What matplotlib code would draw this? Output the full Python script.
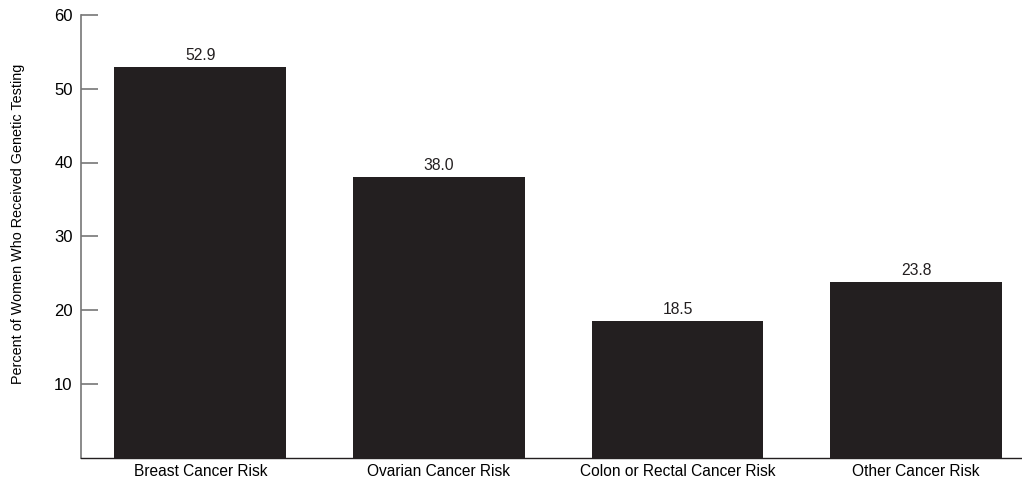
import matplotlib.pyplot as plt
import numpy as np

# data
categories = ["Breast Cancer Risk", "Ovarian Cancer Risk",
              "Colon or Rectal Cancer Risk", "Other Cancer Risk"]
values = [52.9, 38.0, 18.5, 23.8]
y_ticks = [10, 20, 30, 40, 50, 60]

plt.rcParams["font.family"] = ["Liberation Sans", "DejaVu Sans"]

fig = plt.figure(figsize=(10.22, 4.78), dpi=100)
ax = fig.add_axes([81 / 1022, 1 - 457.5 / 478, 1 - 81 / 1022, (457.5 - 15) / 478])

x = np.arange(len(categories))
bars = ax.bar(x, values, width=0.72, color="#231f20", zorder=2)

for xi, v in zip(x, values):
    ax.annotate(f"{v:.1f}", xy=(xi, v), xytext=(0, 3), textcoords="offset points",
                ha="center", va="bottom", fontsize=11.3, color="#231f20")

ax.set_xlim(-0.5, len(categories) - 1 + 0.444)
ax.set_ylim(0, 60)
ax.set_yticks(y_ticks)
ax.set_yticklabels([str(t) for t in y_ticks], fontsize=12)
ax.set_xticks(x)
ax.set_xticklabels(categories, fontsize=11.2)
ax.tick_params(axis="x", length=0, pad=5)
ax.tick_params(axis="y", direction="in", length=12, width=1.2, color="#777777", pad=6)

ax.spines["top"].set_visible(False)
ax.spines["right"].set_visible(False)
ax.spines["left"].set_color("#777777")
ax.spines["left"].set_linewidth(1.2)
ax.spines["bottom"].set_color("#231f20")
ax.spines["bottom"].set_linewidth(1.0)

ax.set_ylabel("Percent of Women Who Received Genetic Testing", fontsize=10.4)
ax.yaxis.set_label_coords(-0.0595, 0.528)

fig.savefig("out.png", dpi=100)
